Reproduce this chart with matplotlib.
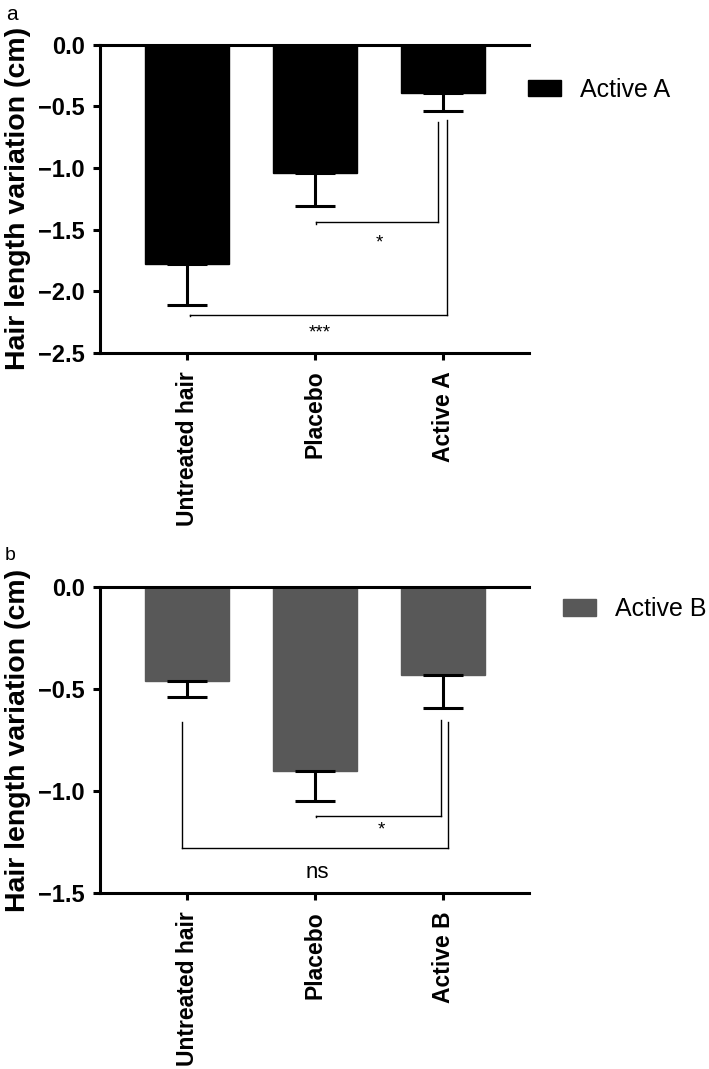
import matplotlib
matplotlib.use("Agg")
import matplotlib.pyplot as plt

plt.rcParams['font.family'] = ['Liberation Sans', 'DejaVu Sans']

categories_a = ['Untreated hair', 'Placebo', 'Active A']
categories_b = ['Untreated hair', 'Placebo', 'Active B']

# mean change and lower error (cm)
means_a = [-1.78, -1.04, -0.39]
err_a = [0.33, 0.27, 0.15]
means_b = [-0.46, -0.90, -0.43]
err_b = [0.08, 0.15, 0.16]

# significance brackets: (x left, x right, y level, y top left, y top right, label, label x, label y)
brackets_a = [
    (1.01, 1.96, -1.44, None, -0.63, '*', 1.50, -1.61),
    (0.02, 2.03, -2.19, None, -0.61, '***', 1.04, -2.34),
]
brackets_b = [
    (1.01, 1.98, -1.12, None, -0.65, '*', 1.52, -1.19),
    (-0.04, 2.04, -1.28, -0.66, -0.66, 'ns', 1.02, -1.40),
]

fig = plt.figure(figsize=(7.09, 10.69), dpi=100)
ax_a = fig.add_axes([0.141, 0.670, 0.605, 0.288])
ax_b = fig.add_axes([0.141, 0.1646, 0.605, 0.286])


def draw_panel(ax, cats, means, errs, color, label, ylim, yticks, brackets, leg_y, leg_x):
    x = list(range(len(cats)))
    ax.bar(x, means, width=0.66, color=color, edgecolor=color, label=label, zorder=2)
    ax.errorbar(x, means, yerr=[errs, [0] * len(errs)], fmt='none', ecolor='black',
                elinewidth=2.2, capsize=14.5, capthick=2.2, zorder=3)
    tick = 0.006 * (ylim[1] - ylim[0])
    for xl, xr, yl, ytl, ytr, txt, tx, ty in brackets:
        ax.plot([xl, xr], [yl, yl], color='black', lw=1.0, zorder=1)
        ax.plot([xr, xr], [yl, ytr], color='black', lw=1.0, zorder=1)
        if ytl is None:
            ax.plot([xl, xl], [yl, yl - tick], color='black', lw=1.0)
        else:
            ax.plot([xl, xl], [yl, ytl], color='black', lw=1.0, zorder=1)
        size = 16 if txt == 'ns' else 13.5
        ax.text(tx, ty, txt, ha='center', va='center', fontsize=size)
    ax.set_xlim(-0.68, 2.67)
    ax.set_ylim(*ylim)
    ax.set_yticks(yticks)
    ax.set_yticklabels([f'{v:.1f}'.replace('-', '\u2212') for v in yticks],
                       fontsize=17, fontweight='bold')
    ax.set_xticks(x)
    ax.set_xticklabels(cats, rotation=90, fontsize=16.5, fontweight='bold')
    ax.set_ylabel('Hair length variation (cm)', fontsize=20.5, fontweight='bold', labelpad=5)
    ax.spines['right'].set_visible(False)
    for s in ['left', 'top', 'bottom']:
        ax.spines[s].set_linewidth(2.2)
    ax.tick_params(axis='both', direction='out', length=5, width=2.2, pad=6)
    ax.tick_params(axis='x', pad=8)
    ax.legend(loc='center left', bbox_to_anchor=(leg_x, leg_y), frameon=False, fontsize=18,
              handlelength=1.32, handleheight=0.64, handletextpad=0.76, borderpad=0,
              borderaxespad=0)


draw_panel(ax_a, categories_a, means_a, err_a, '#000000', 'Active A', (-2.5, 0.0),
           [0.0, -0.5, -1.0, -1.5, -2.0, -2.5], brackets_a, 0.854, 0.998)
draw_panel(ax_b, categories_b, means_b, err_b, '#585858', 'Active B', (-1.5, 0.0),
           [0.0, -0.5, -1.0, -1.5], brackets_b, 0.928, 1.08)

fig.text(12 / 709, 1 - 14 / 1069, 'a', fontsize=15, ha='center', va='center')
fig.text(10 / 709, 1 - 556 / 1069, 'b', fontsize=14, ha='center', va='center')

fig.savefig('out.png', dpi=100)
